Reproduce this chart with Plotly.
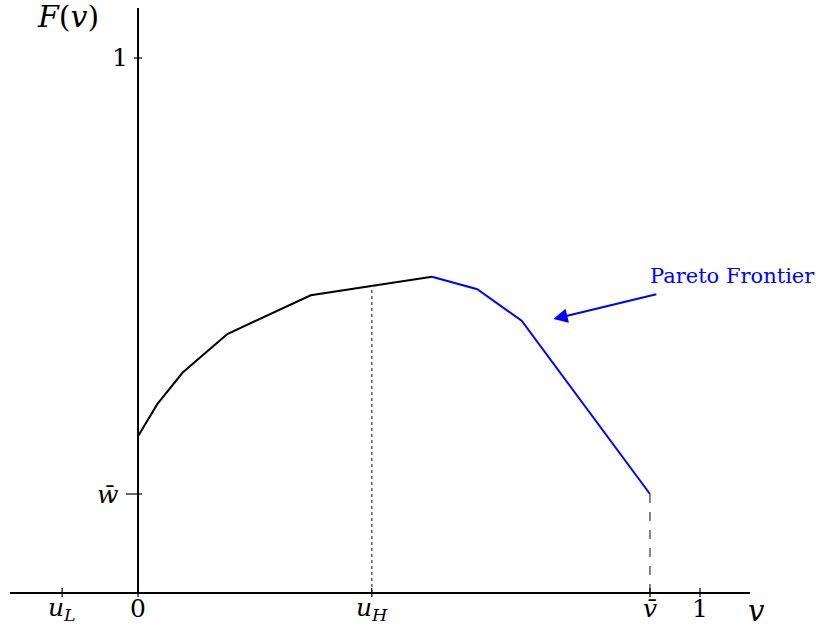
import numpy as np
import plotly.graph_objects as go

# ---- data ----
u_L = -0.135
u_H = 0.416
v_bar = 0.911
w_bar = 0.185

curve_x = [0.0, 0.0343, 0.0795, 0.1589, 0.3073, 0.5231]
curve_y = [0.293, 0.353, 0.412, 0.484, 0.5564, 0.5912]
pareto_x = [0.5231, 0.6037, 0.6827, v_bar]
pareto_y = [0.5912, 0.5677, 0.509, w_bar]

x_tick_vals = [u_L, 0.0, u_H, v_bar, 1.0]
x_tick_text = ["<i>u</i><sub><i>L</i></sub>", "0", "<i>u</i><sub><i>H</i></sub>", "<i>v\u0304</i>", "1"]
y_tick_vals = [w_bar, 1.0]
y_tick_text = ["<i>w\u0304</i>", "1"]

FONT = "DejaVu Serif, Liberation Serif, serif"

fig = go.Figure()
fig.add_trace(go.Scatter(x=curve_x, y=curve_y, mode="lines",
                         line=dict(color="black", width=2), hoverinfo="skip"))
fig.add_trace(go.Scatter(x=pareto_x, y=pareto_y, mode="lines",
                         line=dict(color="#0000ff", width=2), hoverinfo="skip"))

all_x = curve_x + pareto_x[1:]
all_y = curve_y + pareto_y[1:]
uH_top = float(np.interp(u_H, all_x, all_y))

# dotted at u_H, dashed at v_bar
fig.add_trace(go.Scatter(x=[u_H, u_H], y=[0, uH_top], mode="lines",
                         line=dict(color="#444", width=1.3, dash="dot"), hoverinfo="skip"))
fig.add_trace(go.Scatter(x=[v_bar, v_bar], y=[0, w_bar], mode="lines",
                         line=dict(color="#444", width=1.3, dash="dash"), hoverinfo="skip"))

shapes = []
# axes lines
shapes.append(dict(type="line", xref="x", yref="y", x0=-0.228, x1=1.089, y0=0, y1=0,
                   line=dict(color="black", width=2)))
shapes.append(dict(type="line", xref="x", yref="y", x0=0, x1=0, y0=0, y1=1.0935,
                   line=dict(color="black", width=2)))
# ticks
for xv in x_tick_vals:
    shapes.append(dict(type="line", xref="x", yref="y", ysizemode="pixel", yanchor=0,
                       x0=xv, x1=xv, y0=-4, y1=5, line=dict(color="black", width=1.2)))
for yv in y_tick_vals:
    left = -12 if yv == w_bar else -4
    shapes.append(dict(type="line", xref="x", yref="y", xsizemode="pixel", xanchor=0,
                       x0=left, x1=4, y0=yv, y1=yv, line=dict(color="black", width=1.2)))

annotations = []
for xv, t in zip(x_tick_vals, x_tick_text):
    annotations.append(dict(x=xv, y=0, xref="x", yref="y", text=t, showarrow=False,
                            xanchor="center", yanchor="middle", yshift=-16,
                            font=dict(family=FONT, size=25, color="black")))
for yv, t in zip(y_tick_vals, y_tick_text):
    annotations.append(dict(x=0, y=yv, xref="x", yref="y", text=t, showarrow=False,
                            xanchor="right", yanchor="middle",
                            xshift=(-18 if yv == w_bar else -8),
                            font=dict(family=FONT, size=25, color="black")))
# axis titles
annotations.append(dict(x=-0.1245, y=1.077, xref="x", yref="y", text="<i>F</i>(<i>v</i>)",
                        showarrow=False, xanchor="center", yanchor="middle",
                        font=dict(family=FONT, size=30, color="black")))
annotations.append(dict(x=1.101, y=-0.033, xref="x", yref="y", text="<i>v</i>",
                        showarrow=False, xanchor="center", yanchor="middle",
                        font=dict(family=FONT, size=29, color="black")))
# Pareto arrow + label
annotations.append(dict(x=0.739, y=0.512, ax=0.925, ay=0.559, xref="x", yref="y",
                        axref="x", ayref="y", text="", showarrow=True,
                        arrowhead=2, arrowsize=1.3, arrowwidth=2.2, arrowcolor="#0000ff"))
annotations.append(dict(x=1.057, y=0.593, xref="x", yref="y", text="Pareto Frontier",
                        showarrow=False, xanchor="center", yanchor="middle",
                        font=dict(family=FONT, size=21, color="#0000ff")))

fig.update_layout(
    width=818, height=630,
    margin=dict(l=0, r=0, t=0, b=0),
    paper_bgcolor="white", plot_bgcolor="white",
    showlegend=False,
    xaxis=dict(range=[-0.2456, 1.2100], visible=False, fixedrange=True),
    yaxis=dict(range=[-0.0692, 1.1084], visible=False, fixedrange=True),
    shapes=shapes, annotations=annotations,
)
fig.write_html("out.html")
